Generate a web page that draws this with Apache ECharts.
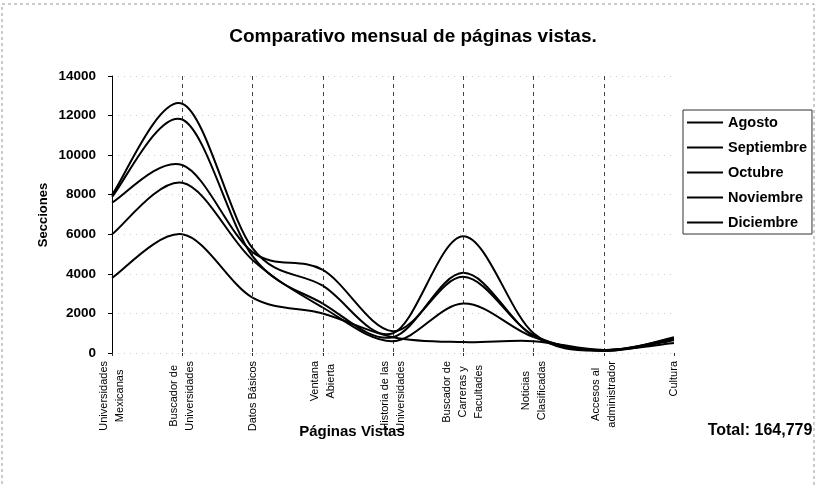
<!DOCTYPE html>
<html>
<head>
<meta charset="utf-8">
<script src="https://cdn.jsdelivr.net/npm/echarts@6/dist/echarts.min.js"></script>
<style>
  html, body { margin: 0; padding: 0; background: #fff; }
  #main { width: 817px; height: 485px; }
</style>
</head>
<body>
<div id="main"></div>
<script>
// paginas (categorias del eje x)
var paginas = [
  'Universidades\nMexicanas',
  'Buscador de\nUniversidades',
  'Datos Básicos',
  'Ventana\nAbierta',
  'Historia de las\nUniversidades',
  'Buscador de\nCarreras y\nFacultades',
  'Noticias\nClasificadas',
  'Accesos al\nadministrador',
  'Cultura'
];
var meses = ['Agosto', 'Septiembre', 'Octubre', 'Noviembre', 'Diciembre'];

// valores
var agosto     = [7600,  9500, 5100, 4200, 1100, 3850,  900, 150, 700];
var septiembre = [8000, 12600, 5300, 3400, 1000, 5900, 1000, 100, 800];
var octubre    = [7900, 11800, 4900, 2500,  800, 4050,  850, 150, 750];
var noviembre  = [6000,  8600, 4700, 2300,  600, 2500,  800, 100, 650];
var diciembre  = [3800,  6000, 2800, 2000,  800,  550,  600, 150, 500];

var yTicks = [0, 2000, 4000, 6000, 8000, 10000, 12000, 14000];

var FONT = '"Liberation Sans", Arial, sans-serif';
var valores = [agosto, septiembre, octubre, noviembre, diciembre];

// curva suavizada tipo Excel (Catmull-Rom) entre puntos consecutivos
function renderTramo(params, api) {
  var arr = valores[params.seriesIndex];
  var n = arr.length;
  var i = params.dataIndex;
  if (i >= n - 1) return;
  function p(k) {
    k = Math.max(0, Math.min(n - 1, k));
    return api.coord([k, arr[k]]);
  }
  var p0 = p(i - 1), p1 = p(i), p2 = p(i + 1), p3 = p(i + 2);
  return {
    type: 'bezierCurve',
    shape: {
      x1: p1[0], y1: p1[1],
      x2: p2[0], y2: p2[1],
      cpx1: p1[0] + (p2[0] - p0[0]) / 6, cpy1: p1[1] + (p2[1] - p0[1]) / 6,
      cpx2: p2[0] - (p3[0] - p1[0]) / 6, cpy2: p2[1] - (p3[1] - p1[1]) / 6
    },
    style: { stroke: '#000', lineWidth: 2, fill: null }
  };
}

function serie(nombre, datos) {
  return {
    name: nombre,
    type: 'custom',
    renderItem: renderTramo,
    data: datos.map(function (v, i) { return [i, v]; }),
    encode: { x: 0, y: 1 },
    itemStyle: { color: '#000' }
  };
}

var chart = echarts.init(document.getElementById('main'));
chart.setOption({
  animation: false,
  backgroundColor: '#fff',
  textStyle: { fontFamily: FONT },
  grid: { left: 112, right: 143, top: 76, bottom: 132, containLabel: false },
  legend: {
    orient: 'vertical',
    left: 683,
    top: 110,
    padding: [5, 5, 4, 4],
    icon: 'path://M0,0H36V2H0Z',
    itemWidth: 36,
    itemHeight: 2,
    itemGap: 10,
    borderColor: '#333',
    borderWidth: 1,
    data: meses,
    textStyle: { fontFamily: FONT, fontSize: 14.5, lineHeight: 15, fontWeight: 'bold', color: '#000' }
  },
  xAxis: {
    type: 'category',
    data: paginas,
    boundaryGap: false,
    axisLine: { show: false },
    axisTick: { show: true, length: 3, lineStyle: { color: '#333' } },
    axisLabel: {
      rotate: 90,
      margin: 8,
      interval: 0,
      formatter: function (v) {
        return v.split('\n').map(function (l) { return '{c|' + l + '}'; }).join('\n');
      },
      rich: {
        c: { fontFamily: FONT, fontSize: 11, lineHeight: 16, color: '#000', align: 'center' }
      }
    },
    splitLine: {
      show: true,
      interval: function (i) { return i > 0 && i < paginas.length - 1; },
      lineStyle: { color: '#444', type: [4, 4], width: 1 }
    }
  },
  yAxis: {
    type: 'value',
    min: yTicks[0],
    max: yTicks[yTicks.length - 1],
    interval: 2000,
    axisLine: { show: true, lineStyle: { color: '#000', width: 1 } },
    axisTick: { show: true, length: 4, lineStyle: { color: '#000' } },
    axisLabel: {
      margin: 16, fontFamily: FONT, fontSize: 13.5, fontWeight: 'bold', color: '#000',
      formatter: function (v) { return String(v); }
    },
    splitLine: { show: true, lineStyle: { color: '#ccc', type: [1, 5], width: 1 } }
  },
  graphic: [
    {
      type: 'rect', silent: true,
      shape: { x: 2, y: 4, width: 812, height: 490 },
      style: { fill: 'none', stroke: '#999', lineWidth: 1, lineDash: [3, 3] }
    },
    {
      type: 'text', x: 413, y: 37,
      style: { text: 'Comparativo mensual de páginas vistas.', font: 'bold 19px ' + FONT, fill: '#000', textAlign: 'center', textVerticalAlign: 'middle' }
    },
    {
      type: 'text', x: 352, y: 432,
      style: { text: 'Páginas Vistas', font: 'bold 15px ' + FONT, fill: '#000', textAlign: 'center', textVerticalAlign: 'middle' }
    },
    {
      type: 'text', x: 760, y: 431,
      style: { text: 'Total: 164,779', font: 'bold 16px ' + FONT, fill: '#000', textAlign: 'center', textVerticalAlign: 'middle' }
    },
    {
      type: 'text', x: 43, y: 215, rotation: Math.PI / 2,
      style: { text: 'Secciones', font: 'bold 13px ' + FONT, fill: '#000', textAlign: 'center', textVerticalAlign: 'middle' }
    }
  ],
  series: [
    serie('Agosto', agosto),
    serie('Septiembre', septiembre),
    serie('Octubre', octubre),
    serie('Noviembre', noviembre),
    serie('Diciembre', diciembre)
  ]
});
</script>
</body>
</html>
